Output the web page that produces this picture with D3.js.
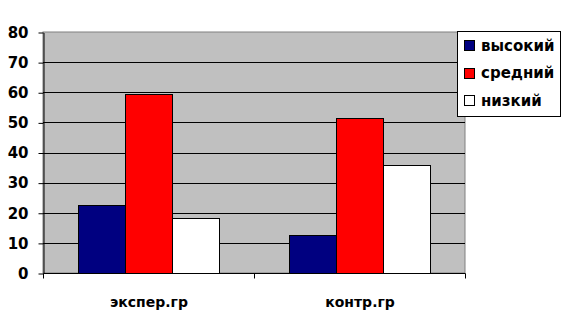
<!DOCTYPE html>
<html><head><meta charset="utf-8">
<script src="https://cdn.jsdelivr.net/npm/d3@7"></script>
<style>body{margin:0;background:#fff}svg{display:block}</style>
</head><body>
<svg id="c" width="565" height="336"></svg>
<script>
const categories = ["экспер.гр", "контр.гр"];
const seriesNames = ["высокий", "средний", "низкий"];
const seriesColors = ["#000080", "#FF0000", "#FFFFFF"];
const vysokiy = [22.5, 12.5];
const sredniy = [59.5, 51.5];
const nizkiy = [18.2, 35.8];
const yTicks = [0, 10, 20, 30, 40, 50, 60, 70, 80];

const series = [vysokiy, sredniy, nizkiy];
const svg = d3.select("#c");
const L = 43, R = 465, T = 32, B = 273;
const font = "'DejaVu Sans', Verdana, sans-serif";

const x0 = d3.scaleBand().domain(categories).range([L, R]).paddingInner(0).paddingOuter(0);
const x1 = d3.scaleBand().domain(d3.range(3)).range([0, x0.bandwidth()]).paddingOuter(35/47).paddingInner(0);
const y = d3.scaleLinear().domain([0, 80]).range([B, T]);

svg.append("rect").attr("x", L).attr("y", T).attr("width", R - L).attr("height", B - T)
  .attr("fill", "#C0C0C0").attr("stroke", "#808080").attr("stroke-width", 1);

svg.append("g").selectAll("line").data(yTicks.filter(d => d > 0 && d < 80)).join("line")
  .attr("x1", L).attr("x2", R).attr("y1", d => Math.round(y(d)) + 0.5).attr("y2", d => Math.round(y(d)) + 0.5)
  .attr("stroke", "#000").attr("stroke-width", 1);

const g = svg.append("g");
categories.forEach((c, ci) => {
  series.forEach((s, si) => {
    const bx = x0(c) + x1(si);
    g.append("rect")
      .attr("x", Math.round(bx) + 0.5).attr("y", Math.round(y(s[ci])) + 0.5)
      .attr("width", Math.round(x1.bandwidth())).attr("height", Math.round(B - y(s[ci])))
      .attr("fill", seriesColors[si]).attr("stroke", "#000").attr("stroke-width", 1);
  });
});

// y axis
const yAxis = d3.axisLeft(y).tickValues(yTicks).tickSize(5).tickPadding(10).tickSizeOuter(0);
const ya = svg.append("g").attr("transform", `translate(${L + 0.5},0.5)`).call(yAxis);
ya.selectAll("path,line").attr("stroke", "#000");
ya.selectAll("text").attr("font-family", font).attr("font-weight", "bold").attr("font-size", 15).attr("fill", "#000");

// x axis
const xa = svg.append("g").attr("transform", `translate(0.5,${B + 0.5})`);
xa.append("line").attr("x1", L).attr("x2", R).attr("stroke", "#000");
[L, x0(categories[1]), R].forEach(v => xa.append("line").attr("x1", Math.round(v)).attr("x2", Math.round(v)).attr("y1", 0).attr("y2", 5).attr("stroke", "#000"));
xa.selectAll("text.cat").data(categories).join("text").attr("class", "cat")
  .attr("x", d => x0(d) + x0.bandwidth() / 2).attr("y", 33)
  .attr("text-anchor", "middle").attr("font-family", font).attr("font-weight", "bold").attr("font-size", 14).text(d => d);

// legend
const lg = svg.append("g");
lg.append("rect").attr("x", 457.5).attr("y", 31.5).attr("width", 103).attr("height", 85).attr("fill", "#fff").attr("stroke", "#000");
seriesNames.forEach((n, i) => {
  const cy = 45 + i * 27.5;
  lg.append("rect").attr("x", 464.5).attr("y", Math.round(cy - 5) + 0.5).attr("width", 10).attr("height", 10)
    .attr("fill", seriesColors[i]).attr("stroke", "#000");
  lg.append("text").attr("x", 481).attr("y", cy + 5.5).attr("font-family", font).attr("font-weight", "bold")
    .attr("font-size", 15).text(n);
});
</script>
</body></html>
